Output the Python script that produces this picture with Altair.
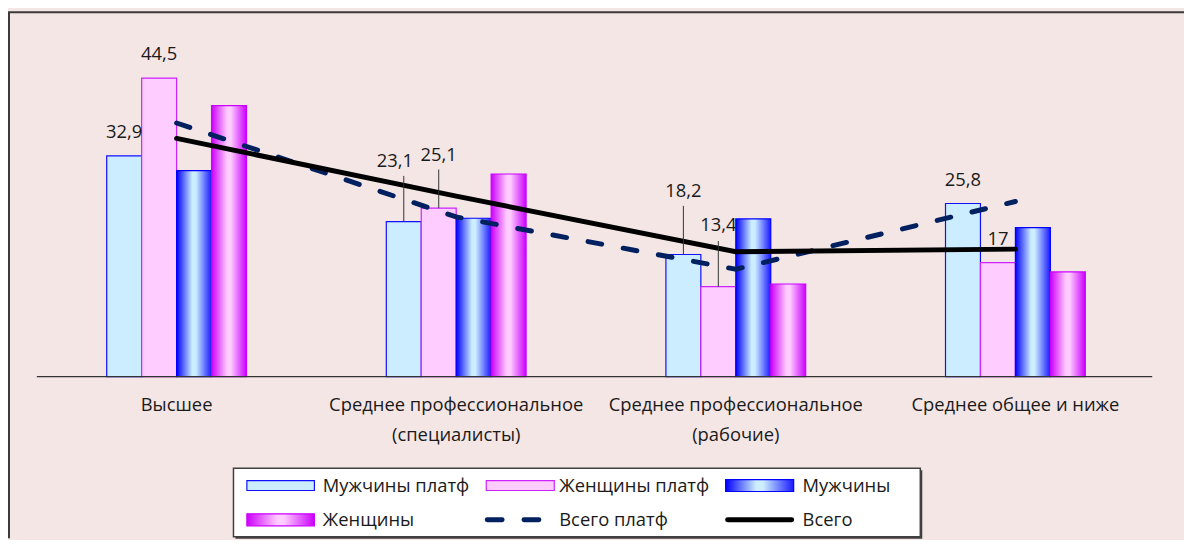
import altair as alt
import pandas as pd

# ---------------- data ----------------
categories = [
    "Высшее",
    "Среднее профессиональное\n(специалисты)",
    "Среднее профессиональное\n(рабочие)",
    "Среднее общее и ниже",
]
bar_series = ["Мужчины платф", "Женщины платф", "Мужчины", "Женщины"]
line_series = ["Всего платф", "Всего"]

men_platf = [32.9, 23.1, 18.2, 25.8]
women_platf = [44.5, 25.1, 13.4, 17.0]
men = [30.7, 23.6, 23.5, 22.2]
women = [40.4, 30.2, 13.8, 15.6]
total_platf = [37.8, 23.8, 16.0, 26.1]
total = [35.5, 26.9, 18.6, 19.0]

labelled_series = ["Мужчины платф", "Женщины платф"]

bar_values = {
    "Мужчины платф": men_platf,
    "Женщины платф": women_platf,
    "Мужчины": men,
    "Женщины": women,
}
line_values = {"Всего платф": total_platf, "Всего": total}

bar_df = pd.DataFrame(
    [{"cat": c, "series": s, "value": v}
     for s in bar_series for c, v in zip(categories, bar_values[s])]
)
line_df = pd.DataFrame(
    [{"cat": c, "series": s, "value": v}
     for s in line_series for c, v in zip(categories, line_values[s])]
)
legend_df = pd.DataFrame({"series": bar_series + line_series})

# ---------------- layout / style ----------------
W, H = 1184, 532
BASE_Y = 369.3
PX = 6.755
BG = "#F5E6E6"
TXT = "#1a1a1a"
FONT = "Open Sans"

y_scale = alt.Scale(domain=[-(H - BASE_Y) / PX, BASE_Y / PX], nice=False, zero=False)
x_scale = alt.Scale(domain=categories, paddingInner=0.5, paddingOuter=0.353)
xo_scale = alt.Scale(domain=bar_series, paddingInner=0, paddingOuter=0)

x_axis = alt.Axis(
    orient="bottom", offset=BASE_Y - H, domain=False, ticks=False, tickSize=0,
    labelPadding=19, labelFontSize=18.5, labelFont=FONT, labelColor=TXT,
    labelAngle=0, labelLimit=500, labelLineHeight=30,
    labelExpr="split(datum.label, '\\n')", title=None, grid=False,
)


def grad(edge, mid, edge2=None):
    edge2 = edge2 or edge
    return alt.LinearGradient(
        gradient="linear", x1=0, x2=1, y1=0, y2=0,
        stops=[
            alt.GradientStop(color=edge, offset=0),
            alt.GradientStop(color=mid, offset=0.45),
            alt.GradientStop(color=mid, offset=0.55),
            alt.GradientStop(color=edge2, offset=1),
        ],
    )


bar_style = {
    "Мужчины платф": dict(fill="#CCECFF", stroke="#1010FF"),
    "Женщины платф": dict(fill="#FFCCFF", stroke="#CC22FF"),
    "Мужчины": dict(fill=grad("#0000FF", "#CCEEFF", "#1A1AFF"), stroke="#0000FF"),
    "Женщины": dict(fill=grad("#CC00FF", "#FFCCFF"), stroke="#CC00FF"),
}

X = alt.X("cat:N", sort=categories, scale=x_scale, axis=x_axis)
XO = alt.XOffset("series:N", sort=bar_series, scale=xo_scale)
Y = alt.Y("value:Q", scale=y_scale, axis=None)

layers = []

# bars
for s in bar_series:
    st = bar_style[s]
    layers.append(
        alt.Chart(bar_df).transform_filter(alt.datum.series == s)
        .mark_bar(fill=st["fill"], stroke=st["stroke"], strokeWidth=1.2)
        .encode(x=X, xOffset=XO, y=Y)
    )

# lines
layers.append(
    alt.Chart(line_df).transform_filter(alt.datum.series == "Всего платф")
    .mark_line(color="#002060", strokeWidth=5, strokeDash=[14, 22], strokeCap="round")
    .encode(x=X, y=Y)
)
layers.append(
    alt.Chart(line_df).transform_filter(alt.datum.series == "Всего")
    .mark_line(color="#000000", strokeWidth=5, strokeCap="round")
    .encode(x=X, y=Y)
)

# value labels (label placement: dx, dy, leader top offset in px)
special = {
    (categories[1], "Мужчины платф"): (-9, -61, -46),
    (categories[1], "Женщины платф"): (0, -54, -39),
    (categories[2], "Мужчины платф"): (0, -64, -49),
    (categories[2], "Женщины платф"): (0, -62, -46),
}
lab_base = (
    alt.Chart(bar_df)
    .transform_filter(alt.FieldOneOfPredicate(field="series", oneOf=labelled_series))
    .transform_calculate(label="replace(format(datum.value, '.1~f'), '.', ',')")
)
default_filter = " && ".join(
    f"!(datum.cat == {c!r} && datum.series == {s!r})".replace("\n", "\\n") for (c, s) in special
)
layers.append(
    lab_base.transform_filter(default_filter)
    .mark_text(font=FONT, fontSize=18.5, color=TXT, baseline="middle", dy=-24)
    .encode(x=X, xOffset=XO, y=Y, text="label:N")
)
for (c, s), (dx, dy, lead) in special.items():
    sub = lab_base.transform_filter((alt.datum.cat == c) & (alt.datum.series == s))
    layers.append(
        sub.mark_rule(color="#333333", strokeWidth=1, y2Offset=lead)
        .encode(x=X, xOffset=XO, y=Y, y2="value:Q")
    )
    layers.append(
        sub.mark_text(font=FONT, fontSize=18.5, color=TXT, baseline="middle", dx=dx, dy=dy)
        .encode(x=X, xOffset=XO, y=Y, text="label:N")
    )

# axis baseline
one = alt.Chart(legend_df).transform_filter(alt.datum.series == "Всего")
layers.append(
    one.mark_rule(color="#333333", strokeWidth=1.3)
    .encode(x=alt.value(29), x2=alt.value(1152), y=alt.value(BASE_Y))
)

# outer frame (top and left edges)
layers.append(one.mark_rule(color="#3a3a3a", strokeWidth=2)
              .encode(x=alt.value(0), x2=alt.value(W), y=alt.value(2.5)))
layers.append(one.mark_rule(color="#3a3a3a", strokeWidth=2)
              .encode(x=alt.value(1), y=alt.value(2.5), y2=alt.value(H)))

# legend box
LX0, LX1, LY0, LY1 = 227, 918.5, 461.5, 530.5
layers.append(one.mark_rect(fill="#404040")
              .encode(x=alt.value(LX0 + 2), x2=alt.value(LX1 + 2),
                      y=alt.value(LY0 + 2), y2=alt.value(LY1 + 2)))
layers.append(one.mark_rect(fill="white", stroke="#404040", strokeWidth=1.5)
              .encode(x=alt.value(LX0), x2=alt.value(LX1),
                      y=alt.value(LY0), y2=alt.value(LY1)))

R1, R2 = 479, 513.5
C_SYM = [(240.5, 308.5), (481.5, 550), (722.5, 791)]
C_TXT = [317, 555, 800]
legend_pos = {
    "Мужчины платф": (0, R1), "Женщины платф": (1, R1), "Мужчины": (2, R1),
    "Женщины": (0, R2), "Всего платф": (1, R2), "Всего": (2, R2),
}
for s, (ci, ry) in legend_pos.items():
    item = alt.Chart(legend_df).transform_filter(alt.datum.series == s)
    x0, x1 = C_SYM[ci]
    if s in bar_style:
        st = bar_style[s]
        hh = 5 if s.endswith("платф") else 6
        layers.append(
            item.mark_rect(fill=st["fill"], stroke=st["stroke"], strokeWidth=1.2)
            .encode(x=alt.value(x0), x2=alt.value(x1),
                    y=alt.value(ry - hh), y2=alt.value(ry + hh))
        )
    elif s == "Всего платф":
        layers.append(
            item.mark_rule(color="#002060", strokeWidth=5, strokeDash=[15, 22], strokeCap="round")
            .encode(x=alt.value(x0 + 1), x2=alt.value(x1 - 14), y=alt.value(ry))
        )
    else:
        layers.append(
            item.mark_rule(color="#000000", strokeWidth=5, strokeCap="round")
            .encode(x=alt.value(x0 + 2), x2=alt.value(x1 - 2), y=alt.value(ry))
        )
    layers.append(
        item.mark_text(font=FONT, fontSize=18.5, color=TXT, align="left", baseline="middle")
        .encode(x=alt.value(C_TXT[ci]), y=alt.value(ry), text="series:N")
    )

chart = (
    alt.layer(*layers)
    .properties(width=W, height=H, padding=0, autosize="none", background=BG)
    .configure_view(stroke=None)
)

chart.save("out.html", embed_options={"renderer": "svg", "actions": False})
